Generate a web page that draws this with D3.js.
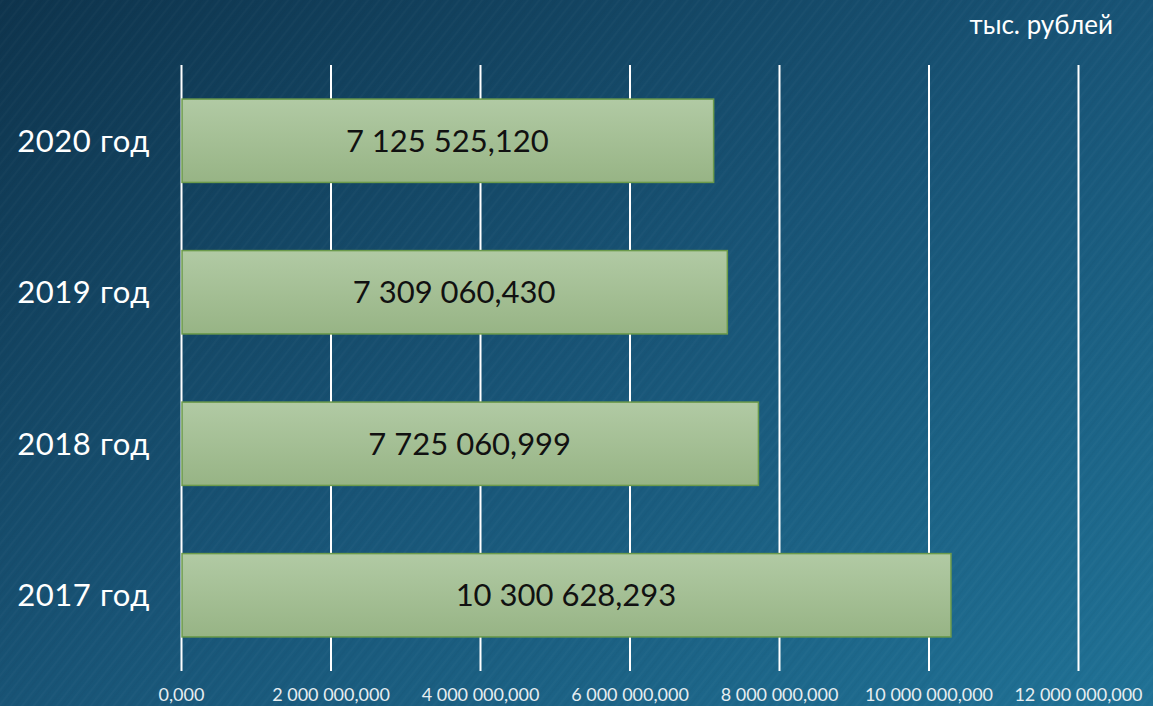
<!DOCTYPE html>
<html>
<head>
<meta charset="utf-8">
<script src="https://cdn.jsdelivr.net/npm/d3@7"></script>
<style>
  html, body { margin: 0; padding: 0; overflow: hidden; }
  svg { display: block; font-family: "Lato", "Noto Sans", sans-serif; }
</style>
</head>
<body>
<svg width="1153" height="706"></svg>
<script>
const years = ["2020 год", "2019 год", "2018 год", "2017 год"];
const values = [7125525.120, 7309060.430, 7725060.999, 10300628.293];
const valueLabels = ["7 125 525,120", "7 309 060,430", "7 725 060,999", "10 300 628,293"];
const tickValues = [0, 2000000, 4000000, 6000000, 8000000, 10000000, 12000000];
const tickLabels = ["0,000", "2 000 000,000", "4 000 000,000", "6 000 000,000",
  "8 000 000,000", "10 000 000,000", "12 000 000,000"];
const unitLabel = "тыс. рублей";

const svg = d3.select("svg");
const width = +svg.attr("width");
const height = +svg.attr("height");

const defs = svg.append("defs");

// background gradient, dark navy top-left to teal bottom-right
const bg = defs.append("linearGradient")
  .attr("id", "bg")
  .attr("x1", "0%").attr("y1", "0%")
  .attr("x2", "100%").attr("y2", "100%");
bg.append("stop").attr("offset", "0%").attr("stop-color", "#0e344d");
bg.append("stop").attr("offset", "50%").attr("stop-color", "#185476");
bg.append("stop").attr("offset", "100%").attr("stop-color", "#207296");

const barGrad = defs.append("linearGradient")
  .attr("id", "bar")
  .attr("x1", "0").attr("y1", "0")
  .attr("x2", "0").attr("y2", "1");
barGrad.append("stop").attr("offset", "0%").attr("stop-color", "#b1caa4");
barGrad.append("stop").attr("offset", "100%").attr("stop-color", "#97b485");

// very faint diagonal streaks for the textured look
const pat = defs.append("pattern")
  .attr("id", "streaks")
  .attr("width", 9).attr("height", 9)
  .attr("patternUnits", "userSpaceOnUse")
  .attr("patternTransform", "rotate(-52)");
pat.append("line")
  .attr("x1", 0).attr("y1", 2).attr("x2", 9).attr("y2", 2)
  .attr("stroke", "#ffffff").attr("stroke-opacity", 0.02).attr("stroke-width", 2);
pat.append("line")
  .attr("x1", 0).attr("y1", 6).attr("x2", 9).attr("y2", 6)
  .attr("stroke", "#000000").attr("stroke-opacity", 0.025).attr("stroke-width", 1.5);

svg.append("rect").attr("width", width).attr("height", height).attr("fill", "url(#bg)");
svg.append("rect").attr("width", width).attr("height", height).attr("fill", "url(#streaks)");

const margin = { top: 65, left: 181 };

const g = svg.append("g")
  .attr("transform", `translate(${margin.left},${margin.top})`);

const xScale = d3.scaleLinear()
  .domain([0, 12000000])
  .range([0, 897]);

const yScale = d3.scaleBand()
  .domain(years)
  .range([0, 606])
  .paddingInner(0.45)
  .paddingOuter(0.225);

// gridlines + tick labels
const xAxis = d3.axisBottom(xScale)
  .tickValues(tickValues)
  .tickSize(-606)
  .tickPadding(17)
  .tickFormat((d, i) => tickLabels[i]);

const xAxisG = g.append("g")
  .attr("transform", `translate(0,606)`)
  .call(xAxis);
xAxisG.select(".domain").remove();
xAxisG.selectAll(".tick line")
  .attr("stroke", "#ffffff")
  .attr("stroke-width", 2);
xAxisG.selectAll(".tick text")
  .attr("fill", "#e6edf1")
  .attr("font-size", 18)
  .attr("font-family", "Lato, 'Noto Sans', sans-serif");

// bars
g.selectAll("rect.bar")
  .data(values)
  .enter()
  .append("rect")
  .attr("class", "bar")
  .attr("x", xScale(0) + 1)
  .attr("y", (d, i) => yScale(years[i]))
  .attr("width", (d) => xScale(d) - xScale(0) - 1)
  .attr("height", yScale.bandwidth())
  .attr("fill", "url(#bar)")
  .attr("stroke", "#6b9a4b")
  .attr("stroke-width", 1.5);

// value labels
g.selectAll("text.value")
  .data(values)
  .enter()
  .append("text")
  .attr("class", "value")
  .attr("x", (d) => (xScale(0) + xScale(d)) / 2)
  .attr("y", (d, i) => yScale(years[i]) + yScale.bandwidth() / 2)
  .attr("dy", "0.35em")
  .attr("text-anchor", "middle")
  .attr("fill", "#111111")
  .attr("font-size", 31)
  .text((d, i) => valueLabels[i]);

// category labels
g.selectAll("text.year")
  .data(years)
  .enter()
  .append("text")
  .attr("class", "year")
  .attr("x", -31)
  .attr("y", (d) => yScale(d) + yScale.bandwidth() / 2)
  .attr("dy", "0.35em")
  .attr("text-anchor", "end")
  .attr("fill", "#ffffff")
  .attr("font-size", 31)
  .attr("letter-spacing", 0.6)
  .text((d) => d);

// unit label
svg.append("text")
  .attr("x", 1113)
  .attr("y", 25)
  .attr("dy", "0.35em")
  .attr("text-anchor", "end")
  .attr("fill", "#ffffff")
  .attr("font-size", 26)
  .text(unitLabel);
</script>
</body>
</html>
